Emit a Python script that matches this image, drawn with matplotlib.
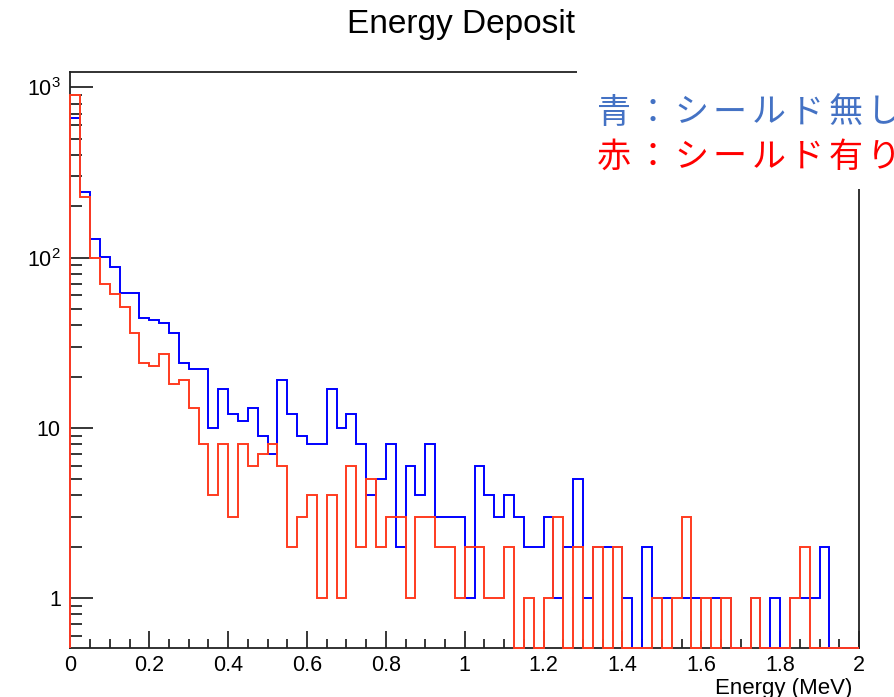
import numpy as np
import matplotlib
matplotlib.use("Agg")
import matplotlib.pyplot as plt
from matplotlib.patches import Rectangle
from matplotlib.ticker import FixedLocator, FixedFormatter, NullFormatter

# Histogram binning (MeV)
e_min, e_max, n_bins = 0.0, 2.0, 80

# Counts per bin: without shield (blue) and with shield (red)
counts_no_shield = [660, 242, 129, 101, 88, 62, 62, 44, 43, 41,
                    36, 24, 22, 22, 10, 17, 12, 11, 13, 9,
                    7, 19, 12, 9, 8, 8, 17, 10, 12, 8,
                    4, 5, 8, 2, 6, 4, 8, 3, 3, 3,
                    1, 6, 4, 3, 4, 3, 2, 2, 3, 1,
                    2, 5, 1, 2, 2, 2, 1, 0, 2, 1,
                    1, 1, 1, 1, 1, 1, 1, 0, 0, 1,
                    0, 1, 0, 1, 1, 1, 2, 0, 0, 0]
counts_shield = [900, 228, 99, 70, 61, 51, 36, 24, 23, 27,
                 18, 19, 13, 8, 4, 8, 3, 8, 6, 7,
                 8, 6, 2, 3, 4, 1, 4, 1, 6, 2,
                 5, 2, 3, 3, 1, 3, 3, 2, 2, 1,
                 2, 2, 1, 1, 2, 0, 1, 0, 1, 3,
                 0, 2, 0, 2, 0, 2, 0, 0, 0, 1,
                 0, 1, 3, 0, 1, 0, 1, 0, 0, 1,
                 0, 0, 0, 1, 2, 0, 0, 0, 0, 0]

x_ticks = [0, 0.2, 0.4, 0.6, 0.8, 1, 1.2, 1.4, 1.6, 1.8, 2]
x_tick_labels = ["0", "0.2", "0.4", "0.6", "0.8", "1", "1.2", "1.4", "1.6", "1.8", "2"]
y_ticks = [1, 10, 100, 1000]
y_tick_labels = ["1", "10", r"$10^{2}$", r"$10^{3}$"]

title = "Energy Deposit"
x_label = "Energy (MeV)"
legend_lines = [("青：シールド無し", "#4472c4"), ("赤：シールド有り", "#ff0000")]

y_low, y_high = 0.508, 1240

plt.rcParams["font.family"] = ["Liberation Sans", "DejaVu Sans"]
plt.rcParams["mathtext.fontset"] = "custom"
plt.rcParams["mathtext.rm"] = "Liberation Sans"
plt.rcParams["mathtext.it"] = "Liberation Sans:italic"
plt.rcParams["mathtext.bf"] = "Liberation Sans:bold"

W, H = 895, 697
fig = plt.figure(figsize=(W / 100, H / 100), dpi=100)
ax = fig.add_axes([70.5 / W, 1 - 648 / H, (859 - 70.5) / W, (648 - 71.5) / H])

edges = np.linspace(e_min, e_max, n_bins + 1)
blue = np.asarray(counts_no_shield, dtype=float)
red = np.asarray(counts_shield, dtype=float)

# empty bins are drawn along the bottom of the frame, as ROOT does
ax.stairs(np.where(blue > 0, blue, y_low), edges, baseline=y_low,
          color="#0000ff", lw=1.4, zorder=3, clip_on=False)
ax.stairs(np.where(red > 0, red, y_low), edges, baseline=y_low,
          color="#ff3b1f", lw=1.4, zorder=4, clip_on=False)

ax.set_yscale("log")
ax.set_xlim(e_min, e_max)
ax.set_ylim(y_low, y_high)

ax.xaxis.set_major_locator(FixedLocator(x_ticks))
ax.xaxis.set_major_formatter(FixedFormatter(x_tick_labels))
ax.xaxis.set_minor_locator(FixedLocator(np.arange(0, 2.001, 0.05)))
ax.yaxis.set_major_locator(FixedLocator(y_ticks))
ax.yaxis.set_major_formatter(FixedFormatter(y_tick_labels))
minor_y = [m * 10 ** d for d in range(-1, 3) for m in range(2, 10)]
ax.yaxis.set_minor_locator(FixedLocator(minor_y))
ax.yaxis.set_minor_formatter(NullFormatter())

ax.tick_params(axis="x", which="major", direction="in", length=12, width=1.1,
               labelsize=15.5, pad=5, top=False)
ax.tick_params(axis="x", which="minor", direction="in", length=6.5, width=1.1, top=False)
ax.tick_params(axis="y", which="major", direction="in", length=16.5, width=1.1,
               labelsize=15.5, pad=7, right=False)
ax.tick_params(axis="y", which="minor", direction="in", length=8.5, width=1.1, right=False)

for side in ["left", "bottom", "top", "right"]:
    ax.spines[side].set_linewidth(1.3)
    ax.spines[side].set_color("#222222")

fig.text(461 / W, 1 - 24 / H, title, ha="center", va="center", fontsize=24)
fig.text(852 / W, 1 - 678 / H, x_label, ha="right", va="top", fontsize=16)

# white panel behind the annotation
fig.add_artist(Rectangle((577 / W, 1 - 189 / H), 1 - 577 / W, 124 / H,
                         transform=fig.transFigure, facecolor="white",
                         edgecolor="none", zorder=5))

advance = 38.6
for row, (line, color) in enumerate(legend_lines):
    yc = 1 - (113 + 44.5 * row) / H
    for k, ch in enumerate(line):
        fig.text((614 + advance * k) / W, yc, ch, ha="center", va="center",
                 fontsize=24.5, color=color, zorder=6,
                 family=["Noto Sans CJK JP", "DejaVu Sans"])

fig.savefig("out.png", dpi=100)
